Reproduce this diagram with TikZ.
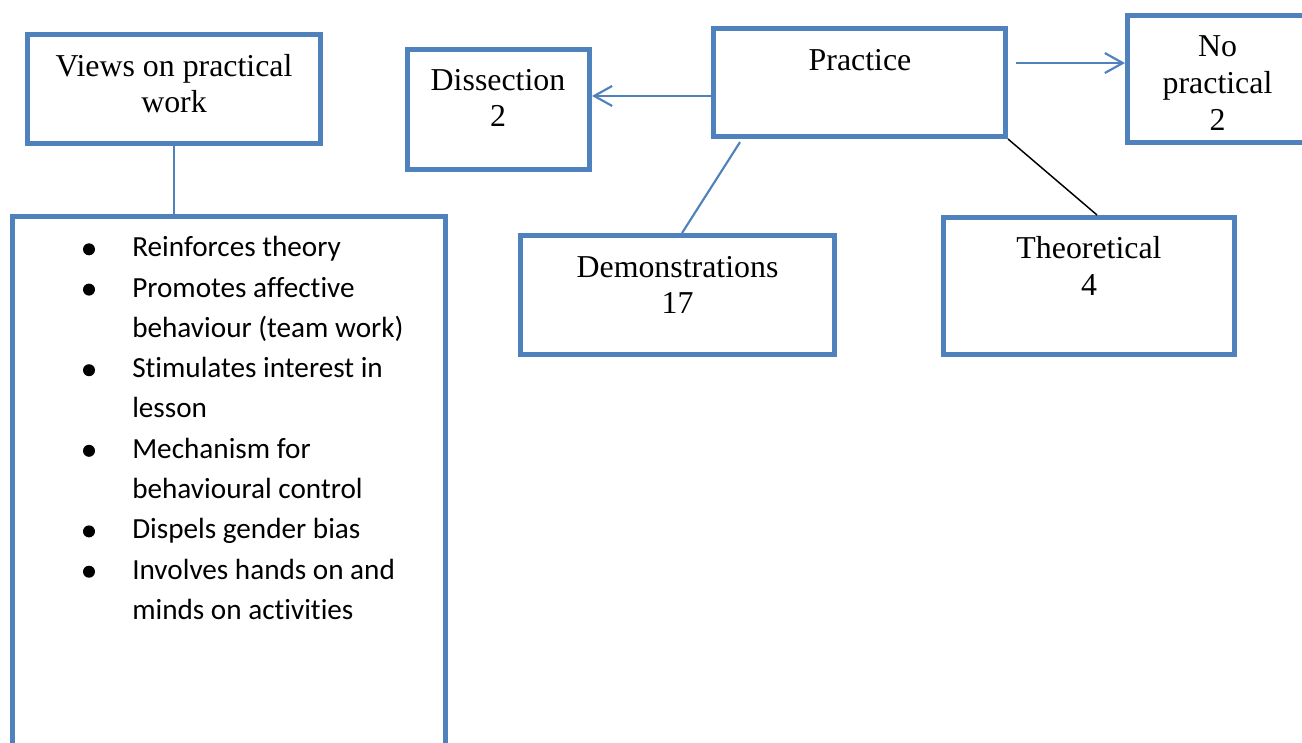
\documentclass[tikz,border=0pt]{standalone}
\usepackage{fontspec}
\setmainfont{Liberation Serif}
\newfontfamily\calibrifont[Ligatures=NoCommon]{Carlito}
\usetikzlibrary{arrows.meta,fit}
\definecolor{boxblue}{HTML}{4F81BD}
\begin{document}
\begin{tikzpicture}[x=0.75pt,y=-0.75pt,
  box/.style={draw=boxblue, line width=3.75pt, fill=white, inner sep=0pt},
  conn/.style={draw=boxblue, line width=1.6pt},
  arr/.style={conn, -{Straight Barb[length=13.5pt,width=15pt]}},
  blackconn/.style={draw=black, line width=1.1pt},
  ttxt/.style={font=\fontsize{23.9pt}{27.4pt}\selectfont, anchor=base, inner sep=0pt},
  btxt/.style={font=\calibrifont\fontsize{21.9pt}{30pt}\selectfont, anchor=base west, inner sep=0pt},
  bulletdot/.style={circle, fill=black, inner sep=0pt, minimum size=9pt}]
\useasboundingbox (0,0) rectangle (1302,742);
\clip (0,0) rectangle (1302,742);

% box corners (stroke centres)
\coordinate (v1) at (27.5,35);     \coordinate (v2) at (320.5,143.5);
\coordinate (l1) at (12.5,216.5);  \coordinate (l2) at (445,790);
\coordinate (d1) at (407.5,49.5);  \coordinate (d2) at (589.5,169.5);
\coordinate (p1) at (713.5,28.5);  \coordinate (p2) at (1005.5,136.5);
\coordinate (n1) at (1127.5,15.5); \coordinate (n2) at (1340,142.5);
\coordinate (m1) at (520.5,235.5); \coordinate (m2) at (834.5,354.5);
\coordinate (t1) at (943.5,217.5); \coordinate (t2) at (1234.5,354.5);

\node[box, fit=(v1)(v2)] (views) {};
\node[box, fit=(l1)(l2)] (list) {};
\node[box, fit=(d1)(d2)] (dissection) {};
\node[box, fit=(p1)(p2)] (practice) {};
\node[box, fit=(n1)(n2)] (noprac) {};
\node[box, fit=(m1)(m2)] (demo) {};
\node[box, fit=(t1)(t2)] (theo) {};

% connectors
\draw[conn] (views.south) -- (views.south |- list.north);
\coordinate (pl) at ([yshift=-10.1pt]practice.west);
\draw[arr] (pl) -- (dissection.east |- pl);
\coordinate (pr) at ([yshift=14.6pt,xshift=6pt]practice.east);
\draw[arr] (pr) -- (noprac.west |- pr);
\coordinate (pd) at ([xshift=-89.6pt,yshift=-2.3pt]practice.south);
\coordinate (md) at ([xshift=3.4pt]demo.north);
\draw[conn] (pd) -- (md);
\coordinate (tt) at ([xshift=6pt]theo.north);
\draw[blackconn] (practice.south east) -- (tt);

% box texts
\node[ttxt] (viewsA) at (174,76) {Views on practical};
\node[ttxt] (viewsB) at (174,113) {work};
\node[ttxt] (dissA) at (498,90) {Dissection};
\node[ttxt] (dissB) at (498,126.7) {2};
\node[ttxt] (pracA) at (860,70) {Practice};
\node[ttxt] (noA) at (1217.5,56.7) {No};
\node[ttxt] (noB) at (1217.5,93.3) {practical};
\node[ttxt] (noC) at (1217.5,130) {2};
\node[ttxt] (demoA) at (677.5,277.3) {Demonstrations};
\node[ttxt] (demoB) at (677.5,313.5) {17};
\node[ttxt] (theoA) at (1089,258.3) {Theoretical};
\node[ttxt] (theoB) at (1089,295) {4};

% bullet list
\node[bulletdot] (b1) at (89,249.3) {};
\node[btxt] (i1) at (132,256.7) {Reinforces theory};
\node[bulletdot] (b2) at (89,289.6) {};
\node[btxt] (i2a) at (132,297) {Promotes affective};
\node[btxt] (i2b) at (132,337.3) {behaviour (team work)};
\node[bulletdot] (b3) at (89,370.2) {};
\node[btxt] (i3a) at (132,377.6) {Stimulates interest in};
\node[btxt] (i3b) at (132,417.9) {lesson};
\node[bulletdot] (b4) at (89,450.8) {};
\node[btxt] (i4a) at (132,458.2) {Mechanism for};
\node[btxt] (i4b) at (132,498.5) {behavioural control};
\node[bulletdot] (b5) at (89,531.4) {};
\node[btxt] (i5) at (132,538.8) {Dispels gender bias};
\node[bulletdot] (b6) at (89,571.7) {};
\node[btxt] (i6a) at (132,579.1) {Involves hands on and};
\node[btxt] (i6b) at (132,619.4) {minds on activities};
\end{tikzpicture}
\end{document}
